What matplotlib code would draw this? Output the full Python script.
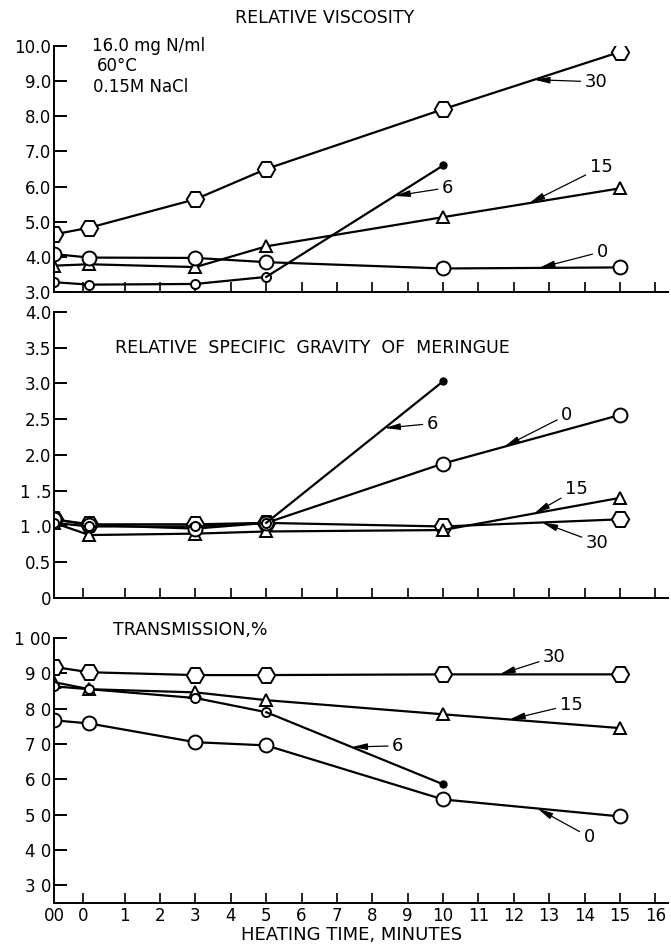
import numpy as np
import matplotlib
matplotlib.use('Agg')
import matplotlib.pyplot as plt

plt.rcParams['font.family'] = ['DejaVu Sans']

# heating times; -1 stands for the unheated sample ("00")
t_all = [-1, 0, 3, 5, 10, 15]
t_six = [-1, 0, 3, 5, 10]

# relative viscosity
visc_0 = [4.08, 3.98, 3.97, 3.85, 3.67, 3.7]
visc_6 = [3.28, 3.21, 3.23, 3.43, 6.6]
visc_15 = [3.75, 3.79, 3.71, 4.3, 5.13, 5.95]
visc_30 = [4.64, 4.83, 5.64, 6.5, 8.2, 9.83]

# relative specific gravity of meringue
sg_0 = [1.1, 1.02, 0.97, 1.05, 1.88, 2.56]
sg_6 = [1.05, 1.0, 1.0, 1.05, 3.03]
sg_15 = [1.05, 0.88, 0.9, 0.93, 0.95, 1.4]
sg_30 = [1.1, 1.03, 1.03, 1.05, 1.0, 1.1]

# transmission, %
tr_0 = [76.7, 75.8, 70.5, 69.6, 54.3, 49.5]
tr_6 = [86.3, 85.5, 83.0, 79.0, 58.6]
tr_15 = [87.5, 85.5, 84.6, 82.4, 78.4, 74.5]
tr_30 = [91.8, 90.3, 89.5, 89.5, 89.7, 89.7]

xtick_pos = [-1, -0.17] + list(range(1, 17))
xtick_lab = ['00', '0'] + [str(i) for i in range(1, 17)]

fig = plt.figure(figsize=(6.71, 9.46), dpi=100)
LW = 1.6
TICK_FS = 12
TITLE_FS = 12.5


def style(ax, ylo, yhi, yticks, ylabels, show_x):
    ax.set_xlim(-1, 16.35)
    ax.set_ylim(ylo, yhi)
    for s in ['top', 'right']:
        ax.spines[s].set_visible(False)
    ax.spines['left'].set_linewidth(1.4)
    ax.spines['bottom'].set_linewidth(1.4)
    ax.set_yticks(yticks)
    ax.set_yticklabels(ylabels)
    ax.set_xticks(xtick_pos[1:])
    if show_x:
        ax.set_xticklabels(xtick_lab[1:])
    else:
        ax.set_xticklabels([])
    ax.tick_params(axis='y', direction='in', length=9.5, width=1.4, labelsize=TICK_FS, pad=2)
    ax.tick_params(axis='x', direction='in', length=7, width=1.2, labelsize=TICK_FS, pad=3)


def curves(ax, d0, d6, d15, d30):
    kw = dict(color='black', lw=LW, mfc='white', mec='black', mew=1.4)
    ax.plot(t_all, d30, marker='H', ms=12.5, **kw)
    ax.plot(t_all, d15, marker='^', ms=9, **kw)
    ax.plot(t_all, d0, marker='o', ms=10, **kw)
    ax.plot(t_six[:-1], d6[:-1], marker='o', ms=6.5, **kw)
    ax.plot(t_six[-2:], d6[-2:], color='black', lw=LW)
    ax.plot(t_six[-1], d6[-1], marker='o', ms=5, color='black', mfc='black')


def tag(ax, text, tx, ty, xs, ys, at):
    # label with a small arrow pointing onto the curve
    ax.annotate(text, xy=(at, np.interp(at, xs, ys)), xytext=(tx, ty),
                fontsize=13, ha='center', va='center',
                arrowprops=dict(arrowstyle='-|>,head_length=0.7,head_width=0.15',
                                color='black', lw=0.9, shrinkA=1, shrinkB=0))


# top: relative viscosity
ax1 = fig.add_axes([0.0805, 0.6913, 0.9145, 0.2601])
curves(ax1, visc_0, visc_6, visc_15, visc_30)
style(ax1, 3.0, 10.0, np.arange(3, 11), ['%.1f' % v for v in range(3, 11)], False)
tag(ax1, '30', 14.33, 8.98, t_all, visc_30, 12.58)
tag(ax1, '6', 10.13, 5.97, t_six, visc_6, 8.63)
tag(ax1, '15', 14.47, 6.55, t_all, visc_15, 12.44)
tag(ax1, '0', 14.5, 4.15, t_all, visc_0, 12.72)
ax1.text(0.08, 10.0, '16.0 mg N/ml', fontsize=12, va='center')
ax1.text(0.2, 9.43, '60°C', fontsize=12, va='center')
ax1.text(0.1, 8.84, '0.15M NaCl', fontsize=12, va='center')
fig.text(325 / 671, 1 - 18 / 946, 'RELATIVE VISCOSITY', fontsize=TITLE_FS, ha='center', va='center')

# middle: specific gravity
ax2 = fig.add_axes([0.0805, 0.3679, 0.9145, 0.3023])
curves(ax2, sg_0, sg_6, sg_15, sg_30)
sg_ticks = [0, 0.5, 1.0, 1.5, 2.0, 2.5, 3.0, 3.5, 4.0]
sg_labs = ['0', '0.5', '1 .0', '1 .5', '2.0', '2.5', '3.0', '3.5', '4.0']
style(ax2, 0, 4.0, sg_ticks, sg_labs, False)
tag(ax2, '6', 9.7, 2.44, t_six, sg_6, 8.35)
tag(ax2, '0', 13.5, 2.56, t_all, sg_0, 11.73)
tag(ax2, '15', 13.77, 1.52, t_all, sg_15, 12.58)
tag(ax2, '30', 14.36, 0.77, t_all, sg_30, 12.8)
ax2.text(0.73, 3.49, 'RELATIVE  SPECIFIC  GRAVITY  OF  MERINGUE', fontsize=TITLE_FS, va='center')

# bottom: transmission
ax3 = fig.add_axes([0.0805, 0.0455, 0.9145, 0.2801])
curves(ax3, tr_0, tr_6, tr_15, tr_30)
tr_ticks = list(range(30, 101, 10))
tr_labs = ['3 0', '4 0', '5 0', '6 0', '7 0', '8 0', '9 0', '1 00']
style(ax3, 25, 100, tr_ticks, tr_labs, True)
ax3.set_xticks(xtick_pos)
ax3.set_xticklabels(xtick_lab)
ax3.xaxis.get_major_ticks()[0].tick1line.set_visible(False)
tag(ax3, '30', 13.15, 94.7, t_all, tr_30, 11.6)
tag(ax3, '15', 13.62, 81.1, t_all, tr_15, 11.88)
tag(ax3, '6', 8.72, 69.5, t_six, tr_6, 7.42)
tag(ax3, '0', 14.13, 43.7, t_all, tr_0, 12.67)
fig.text(113 / 671, 1 - 630 / 946, 'TRANSMISSION,%', fontsize=TITLE_FS, va='center')
fig.text(352 / 671, 1 - 935 / 946, 'HEATING TIME, MINUTES', fontsize=13, ha='center', va='center')

fig.savefig('out.png', dpi=100)
